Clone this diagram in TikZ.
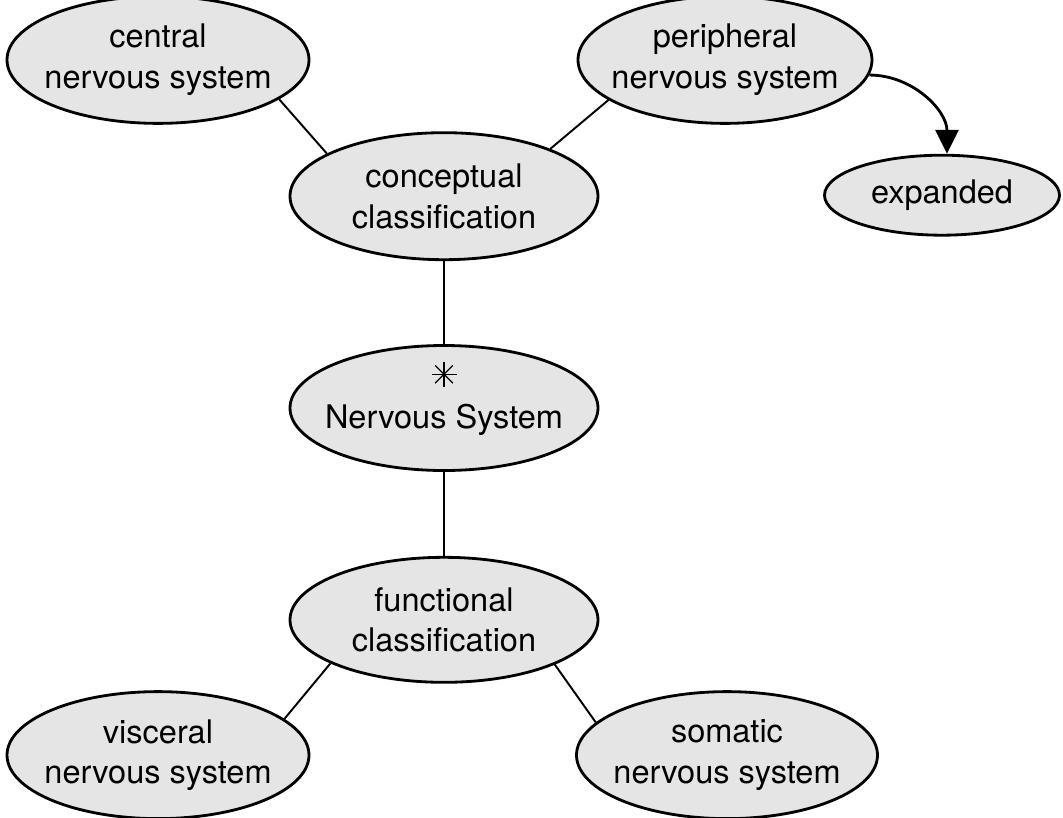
\documentclass[tikz,border=0pt]{standalone}
\usepackage{fontspec}
\setmainfont{TeX Gyre Heros}
\usepackage{tikz}
\usetikzlibrary{arrows.meta, positioning, shapes.geometric}
\newcommand{\nsmark}{\tikz[baseline=-0.8ex, line width=0.7pt]
  \foreach \a in {0,45,90,135} \draw (\a:0.25cm) -- (\a+180:0.25cm);}

\begin{document}
\begin{tikzpicture}[
    font=\fontsize{18.5}{23}\selectfont,
    term/.style={ellipse, draw, line width=1.6pt, fill=black!10, align=center,
                 inner xsep=-6pt, inner ysep=0pt,
                 minimum width=6.1cm, minimum height=2.54cm},
    link/.style={line width=1.1pt},
    arr/.style={line width=1.6pt, -{Triangle[length=4.8mm, width=4.6mm]}},
]
\useasboundingbox (0,0) rectangle (21.26,-16.36);

% Core concept
\node[term, minimum width=6.16cm, minimum height=2.5cm, text depth=15pt, inner ysep=-3pt]
    (ns) at (8.88,-8.16) {\nsmark\\Nervous System};

% Classifications
\node[term, minimum width=6.16cm, above=1.66cm of ns] (concept) {conceptual\\classification};
\node[term, minimum width=6.16cm, minimum height=2.5cm, below=1.68cm of ns] (func) {functional\\classification};

% Conceptual branch
\node[term, minimum width=6.04cm, above=0.13cm of concept, xshift=-5.72cm] (cns) {central\\nervous system};
\node[term, minimum width=5.88cm, above=0.13cm of concept, xshift=5.62cm] (pns) {peripheral\\nervous system};
\node[term, minimum width=4.7cm, minimum height=1.6cm, below=0.58cm of pns, xshift=4.34cm] (exp) {expanded};

% Functional branch
\node[term, minimum width=6.04cm, below=0.13cm of func, xshift=-5.72cm] (visc) {visceral\\nervous system};
\node[term, minimum width=6.02cm, below=0.13cm of func, xshift=5.66cm] (som) {somatic\\nervous system};

% Connections
\draw[link] (cns.-18) -- (concept.160);
\draw[link] (pns.199) -- (concept.24);
\draw[link] (concept) -- (ns);
\draw[link] (ns) -- (func);
\draw[link] (func.201) -- (visc.16);
\draw[link] (func.-22) -- (som.166);
\draw[arr] (pns.-6) to[out=0, in=90] ([xshift=1mm]exp.north);

\end{tikzpicture}
\end{document}
